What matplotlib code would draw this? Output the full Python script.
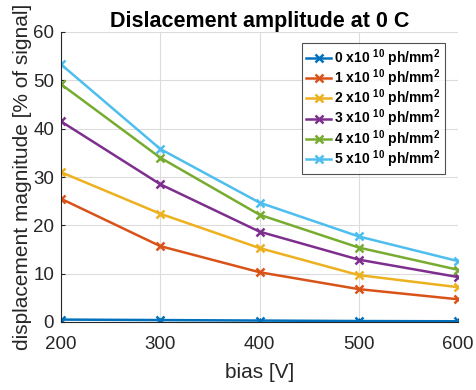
import numpy as np
import matplotlib
matplotlib.use("Agg")
import matplotlib.pyplot as plt

plt.rcParams['font.family'] = ['Liberation Sans', 'DejaVu Sans']
plt.rcParams['mathtext.fontset'] = 'custom'
plt.rcParams['mathtext.bf'] = 'Liberation Sans:bold'
plt.rcParams['mathtext.rm'] = 'Liberation Sans'
plt.rcParams['mathtext.default'] = 'bf'

# Datos
bias = [200, 300, 400, 500, 600]
flujos = [0, 1, 2, 3, 4, 5]
amplitud = [
    [0.5, 0.4, 0.3, 0.2, 0.15],
    [25.5, 15.7, 10.3, 6.8, 4.7],
    [31.0, 22.4, 15.3, 9.7, 7.2],
    [41.5, 28.5, 18.7, 12.9, 9.3],
    [49.2, 34.0, 22.2, 15.4, 10.8],
    [53.3, 35.8, 24.7, 17.7, 12.6],
]
colores = ['#0072BD', '#D95319', '#EDB120', '#7E2F8E', '#77AC30', '#4DBEEE']

fig = plt.figure(figsize=(4.76, 3.9), dpi=100)
ax = fig.add_axes([61/476, 1 - 322/390, 397/476, 290/390])

for f, y, c in zip(flujos, amplitud, colores):
    ax.plot(bias, y, color=c, linewidth=1.8, marker='x', markersize=6,
            markeredgewidth=1.8, label=r'%d x10 $^{10}$ ph/mm$^2$' % f)

ax.set_xlim(200, 600)
ax.set_ylim(0, 60)
ax.set_xticks([200, 300, 400, 500, 600])
ax.set_yticks([0, 10, 20, 30, 40, 50, 60])
ax.grid(True, color='#dcdcdc', linewidth=0.8)
ax.set_axisbelow(True)
for s in ['top', 'right']:
    ax.spines[s].set_visible(False)
for s in ['left', 'bottom']:
    ax.spines[s].set_color('#262626')
ax.tick_params(direction='in', length=3, labelsize=13.5, colors='#262626')
ax.tick_params(axis='x', pad=10)
ax.tick_params(axis='y', pad=5)

ax.set_title('Dislacement amplitude at 0 C', fontsize=15.5, fontweight='bold', pad=1)
ax.set_xlabel('bias [V]', fontsize=15, color='#262626', labelpad=7)
ax.set_ylabel('displacement magnitude [% of signal]', fontsize=15, color='#262626', labelpad=1)

leg = ax.legend(loc='upper right', bbox_to_anchor=(0.966, 0.962), borderaxespad=0,
                prop={'weight': 'bold', 'size': 10}, frameon=True, fancybox=False,
                edgecolor='#262626', handlelength=1.8, handletextpad=0.2,
                borderpad=0.3, labelspacing=-0.1)
leg.get_frame().set_linewidth(0.8)

fig.savefig('out.png', dpi=100)
